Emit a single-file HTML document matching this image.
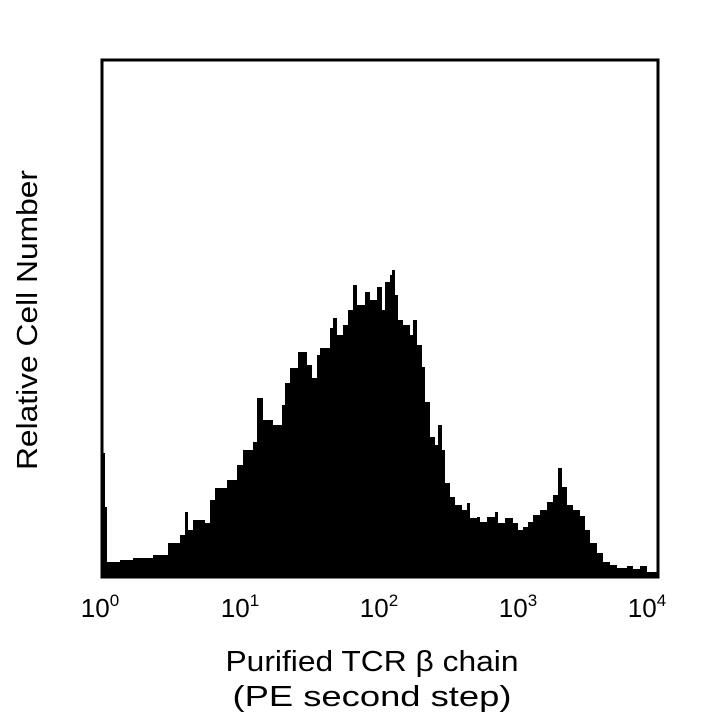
<!DOCTYPE html>
<html><head><style>body{margin:0;background:#fff}svg{display:block}</style></head><body>
<svg width="720" height="720" viewBox="0 0 720 720" font-family="Liberation Sans, sans-serif">
<path fill="#000" d="M102,577 V453 H105 V507 H107 V562 H120 V560 H133 V558 H153 V555 H168 V543 H180 V535 H185 V512 H188 V530 H193 V520 H205 V523 H210 V500 H215 V488 H227 V480 H237 V465 H243 V450 H253 V442 H257 V398 H263 V420 H273 V425 H282 V405 H285 V383 H290 V368 H298 V352 H307 V365 H312 V378 H317 V355 H320 V348 H330 V328 H333 V318 H337 V335 H343 V325 H348 V310 H353 V285 H357 V305 H365 V292 H370 V300 H377 V287 H382 V310 H385 V282 H390 V275 H392 V270 H395 V295 H398 V320 H403 V325 H410 V335 H413 V320 H417 V345 H422 V367 H425 V402 H430 V437 H435 V445 H438 V425 H442 V450 H445 V483 H450 V497 H455 V505 H462 V510 H467 V503 H470 V518 H477 V517 H480 V522 H487 V517 H495 V512 H498 V523 H505 V518 H513 V523 H518 V530 H523 V527 H528 V522 H533 V515 H540 V510 H547 V502 H553 V495 H558 V468 H562 V487 H567 V505 H573 V510 H580 V516 H585 V530 H590 V543 H597 V553 H603 V562 H610 V565 H617 V568 H627 V566 H633 V569 H640 V566 H647 V572 H655 V572 H657 V565 V577 Z"/>
<rect x="102" y="60" width="556" height="517" fill="none" stroke="#000" stroke-width="3"/>
<g font-size="26" text-anchor="middle">
<text x="100" y="617">10<tspan font-size="17" dy="-11">0</tspan></text>
<text x="240" y="617">10<tspan font-size="17" dy="-11">1</tspan></text>
<text x="379" y="617">10<tspan font-size="17" dy="-11">2</tspan></text>
<text x="518" y="617">10<tspan font-size="17" dy="-11">3</tspan></text>
<text x="647" y="617">10<tspan font-size="17" dy="-11">4</tspan></text>
</g>
<text x="372" y="671" font-size="29" text-anchor="middle" textLength="293" lengthAdjust="spacingAndGlyphs">Purified TCR β chain</text>
<text x="372" y="706" font-size="29" text-anchor="middle" textLength="279" lengthAdjust="spacingAndGlyphs">(PE second step)</text>
<text transform="translate(37,320) rotate(-90)" font-size="29" text-anchor="middle" textLength="300" lengthAdjust="spacingAndGlyphs">Relative Cell Number</text>
</svg>
</body></html>
